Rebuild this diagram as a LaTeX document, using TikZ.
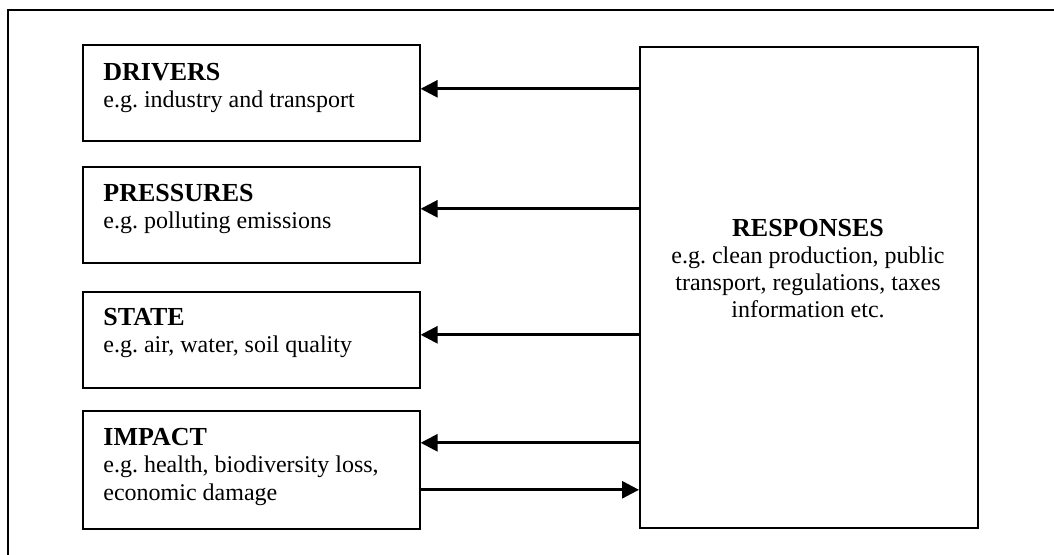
\documentclass[tikz,border=0pt]{standalone}
\usepackage{fontspec}
\setmainfont{Liberation Serif}
\usetikzlibrary{arrows.meta}
\frenchspacing

\tikzset{
  box/.style={draw, line width=0.8pt, rectangle, inner sep=0pt, anchor=north west},
  label/.style={inner sep=0pt, align=left, anchor=base west,
    font=\fontsize{12pt}{13.6pt}\selectfont},
  flow/.style={line width=1.4pt, -{Triangle[length=8.5pt,width=8.5pt]}},
}
\newcommand{\hd}[1]{{\fontsize{13pt}{14pt}\selectfont\bfseries #1}}

\begin{document}
\begin{tikzpicture}[x=0.5pt, y=-0.5pt]
  \useasboundingbox (0,0) rectangle (1054,555);
  \clip (0,0) rectangle (1054,555);
  \fill[white] (0,0) rectangle (1054,555);

  % surrounding frame, running past the right and bottom edges
  \draw[line width=0.75pt] (8,10) rectangle (1080,580);

  % DPSIR chain on the left
  \node[box, minimum width=168.5pt, minimum height=48pt] (drivers) at (82,44) {};
  \node[box, minimum width=168.5pt, minimum height=48pt] (pressures) at (82,166) {};
  \node[box, minimum width=168.5pt, minimum height=48pt] (state) at (82,291) {};
  \node[box, minimum width=168.5pt, minimum height=59pt] (impact) at (82,410) {};

  % responses box on the right
  \node[box, minimum width=169pt, minimum height=240.5pt] (resp) at (639,46) {};

  % box texts, placed by the baseline of their last line
  \node[label] (drivers-t) at (103,108) {\hd{DRIVERS}\\e.g. industry and transport};
  \node[label] (pressures-t) at (103,229) {\hd{PRESSURES}\\e.g. polluting emissions};
  \node[label] (state-t) at (103,353) {\hd{STATE}\\e.g. air, water, soil quality};
  \node[label] (impact-t) at (103,500) {\hd{IMPACT}\\e.g. health, biodiversity loss,\\economic damage};
  \node[label, align=center, anchor=base] (resp-t) at (808,318)
    {\hd{RESPONSES}\\e.g. clean production, public\\transport, regulations, taxes\\information etc.};

  % connector heights
  \coordinate (c1) at ([yshift=2pt]drivers.east);
  \coordinate (c2) at ([yshift=3pt]pressures.east);
  \coordinate (c3) at ([yshift=2.5pt]state.east);
  \coordinate (c4) at ([yshift=13.5pt]impact.east);
  \coordinate (c5) at ([yshift=-10pt]impact.east);

  \draw[flow] (resp.west |- c1) -- (c1);
  \draw[flow] (resp.west |- c2) -- (c2);
  \draw[flow] (resp.west |- c3) -- (c3);
  \draw[flow] (resp.west |- c4) -- (c4);
  \draw[flow] (c5) -- (resp.west |- c5);
\end{tikzpicture}
\end{document}
